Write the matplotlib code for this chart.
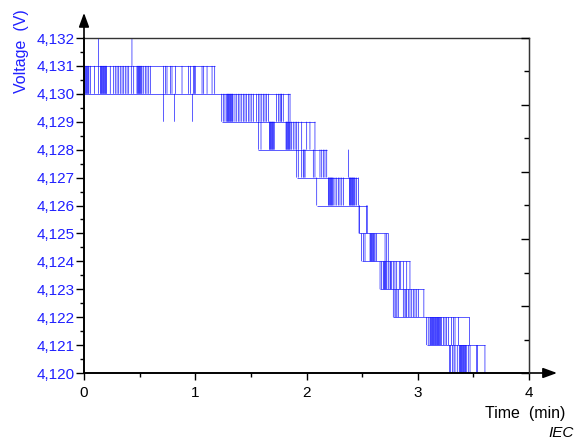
import matplotlib
matplotlib.use("Agg")
import matplotlib.pyplot as plt
from matplotlib.ticker import MultipleLocator

plt.rcParams['font.family'] = ['Liberation Sans', 'DejaVu Sans']

# times (min) where the reading flips inside each 1 mV band, band named by its lower level
toggles_4130 = [0.000, 0.006, 0.013, 0.019, 0.025, 0.031, 0.038, 0.044, 0.057, 0.096,
                0.132, 0.147, 0.153, 0.159, 0.165, 0.172, 0.178, 0.184, 0.191, 0.197,
                0.203, 0.236, 0.267, 0.281, 0.297, 0.312, 0.326, 0.342, 0.357, 0.371,
                0.387, 0.402, 0.425, 0.447, 0.476, 0.483, 0.489, 0.495, 0.501, 0.508,
                0.514, 0.521, 0.537, 0.551, 0.566, 0.582, 0.596, 0.716, 0.731, 0.746,
                0.776, 0.791, 0.821, 0.881, 0.941, 0.956, 0.986, 0.993, 1.000, 1.061,
                1.076, 1.106, 1.151, 1.175]
toggles_4129 = [1.238, 1.252, 1.267, 1.283, 1.289, 1.295, 1.301, 1.308, 1.314, 1.320,
                1.327, 1.333, 1.339, 1.357, 1.373, 1.387, 1.402, 1.418, 1.432, 1.447,
                1.461, 1.477, 1.492, 1.508, 1.522, 1.552, 1.567, 1.582, 1.598, 1.612,
                1.627, 1.642, 1.657, 1.732, 1.747, 1.762, 1.771, 1.777, 1.791, 1.836,
                1.852]
toggles_4128 = [1.567, 1.591, 1.666, 1.672, 1.678, 1.684, 1.691, 1.697, 1.703, 1.710,
                1.816, 1.822, 1.828, 1.835, 1.841, 1.847, 1.853, 1.867, 1.881, 1.897,
                1.912, 1.926, 1.957, 2.002, 2.031, 2.076]
toggles_4127 = [1.912, 1.926, 1.957, 1.971, 1.978, 1.987, 2.061, 2.076, 2.121, 2.137,
                2.151, 2.166, 2.182]
toggles_4126 = [2.092, 2.196, 2.202, 2.209, 2.215, 2.221, 2.227, 2.234, 2.240, 2.256,
                2.272, 2.286, 2.301, 2.317, 2.331, 2.385, 2.391, 2.397, 2.404, 2.410,
                2.416, 2.422, 2.429, 2.436, 2.451, 2.466]
toggles_4125 = [2.472, 2.478, 2.541, 2.546]
toggles_4124 = [2.496, 2.511, 2.526, 2.571, 2.577, 2.583, 2.589, 2.596, 2.602, 2.608,
                2.616, 2.631, 2.706, 2.721, 2.735]
toggles_4123 = [2.661, 2.676, 2.690, 2.697, 2.703, 2.709, 2.715, 2.722, 2.735, 2.751,
                2.757, 2.766, 2.780, 2.795, 2.811, 2.834, 2.847, 2.870, 2.901, 2.930]
toggles_4122 = [2.780, 2.795, 2.804, 2.813, 2.825, 2.870, 2.885, 2.894, 2.901, 2.915,
                2.930, 2.946, 2.960, 2.975, 2.991, 3.005, 3.055]
toggles_4121 = [3.080, 3.094, 3.110, 3.116, 3.122, 3.129, 3.135, 3.141, 3.147, 3.154,
                3.160, 3.166, 3.173, 3.179, 3.185, 3.191, 3.198, 3.204, 3.215, 3.230,
                3.245, 3.260, 3.275, 3.305, 3.320, 3.335, 3.365, 3.465]
toggles_4120 = [3.284, 3.296, 3.314, 3.326, 3.335, 3.355, 3.373, 3.380, 3.386, 3.392,
                3.398, 3.405, 3.411, 3.417, 3.424, 3.430, 3.436, 3.454, 3.470, 3.530,
                3.536, 3.604]

band_low = [4.130, 4.129, 4.128, 4.127, 4.126, 4.125, 4.124, 4.123, 4.122, 4.121, 4.120]
band_toggles = [toggles_4130, toggles_4129, toggles_4128, toggles_4127, toggles_4126,
                toggles_4125, toggles_4124, toggles_4123, toggles_4122, toggles_4121,
                toggles_4120]

# single glitches outside the current band
spike_t = [0.130, 0.431, 0.716, 0.812, 0.977, 2.376]
spike_from = [4.131, 4.131, 4.130, 4.130, 4.130, 4.127]
spike_to = [4.132, 4.132, 4.129, 4.129, 4.129, 4.128]

x_ticks = [0, 1, 2, 3, 4]
y_ticks = [4.120, 4.121, 4.122, 4.123, 4.124, 4.125, 4.126, 4.127, 4.128, 4.129,
           4.130, 4.131, 4.132]
y_tick_labels = ['4,120', '4,121', '4,122', '4,123', '4,124', '4,125', '4,126',
                 '4,127', '4,128', '4,129', '4,130', '4,131', '4,132']

blue = '#0000ff'
lw = 0.45

fig = plt.figure(figsize=(5.84, 4.44), dpi=100)
ax = fig.add_axes([84 / 584, 71 / 444, 445 / 584, 335 / 444])

# vertical flips in each band
for low, ts in zip(band_low, band_toggles):
    ax.vlines(ts, low, low + 0.001, colors=blue, lw=lw, snap=False)

# horizontal runs at each level, from the first flip below to the last flip above
levels = [band_low[0] + 0.001] + band_low
for j, lev in enumerate(levels):
    touching = []
    if j >= 1:
        touching += band_toggles[j - 1]
    if j < len(band_toggles):
        touching += band_toggles[j]
    ax.hlines(lev, min(touching), max(touching), colors=blue, lw=lw)

ax.vlines(spike_t, spike_from, spike_to, colors=blue, lw=lw, snap=False)

ax.set_xlim(0, 4)
ax.set_ylim(4.120, 4.132)
ax.set_xticks(x_ticks)
ax.set_yticks(y_ticks)
ax.set_yticklabels(y_tick_labels)
ax.xaxis.set_minor_locator(MultipleLocator(0.5))
ax.yaxis.set_minor_locator(MultipleLocator(0.0005))
ax.tick_params(axis='y', which='major', length=6, width=1, pad=1,
               labelsize=11, labelcolor='#2020ff', direction='out')
ax.tick_params(axis='y', which='minor', length=3, width=1, direction='out')
ax.tick_params(axis='x', which='major', length=5, width=1, pad=4,
               labelsize=11, direction='out')
ax.tick_params(axis='x', which='minor', length=3, width=1, direction='out')

for s in ['left', 'bottom']:
    ax.spines[s].set_linewidth(1.2)
for s in ['top', 'right']:
    ax.spines[s].set_linewidth(1.0)
    ax.spines[s].set_color('#333333')

# right-hand scale: ten divisions, inward ticks, no labels
ax2 = ax.twinx()
ax2.set_ylim(0, 10)
ax2.set_yticks([0, 2, 4, 6, 8, 10])
ax2.set_yticks([1, 3, 5, 7, 9], minor=True)
ax2.tick_params(axis='y', which='major', direction='in', length=6, width=1,
                labelright=False)
ax2.tick_params(axis='y', which='minor', direction='in', length=3.5, width=1)
for s in ['left', 'bottom', 'top']:
    ax2.spines[s].set_visible(False)
ax2.spines['right'].set_color('#333333')

# axis arrows
arrow = dict(arrowstyle='-|>,head_length=0.6,head_width=0.22', color='black',
             lw=1.2, shrinkA=0, shrinkB=0, mutation_scale=14)
ax.annotate('', xy=(0, 1.075), xytext=(0, 0), xycoords='axes fraction',
            arrowprops=arrow, annotation_clip=False)
ax.annotate('', xy=(1.063, 0), xytext=(0, 0), xycoords='axes fraction',
            arrowprops=arrow, annotation_clip=False)

fig.text(22 / 584, 1 - 93 / 444, 'Voltage  (V)', rotation=90, ha='center',
         va='bottom', fontsize=11.5, color='#2020ff')
fig.text(565 / 584, 1 - 413 / 444, 'Time  (min)', ha='right', va='center',
         fontsize=11.5)
fig.text(574 / 584, 1 - 433 / 444, 'IEC', ha='right', va='center',
         fontsize=11, style='italic')

fig.savefig('out.png', dpi=100)
